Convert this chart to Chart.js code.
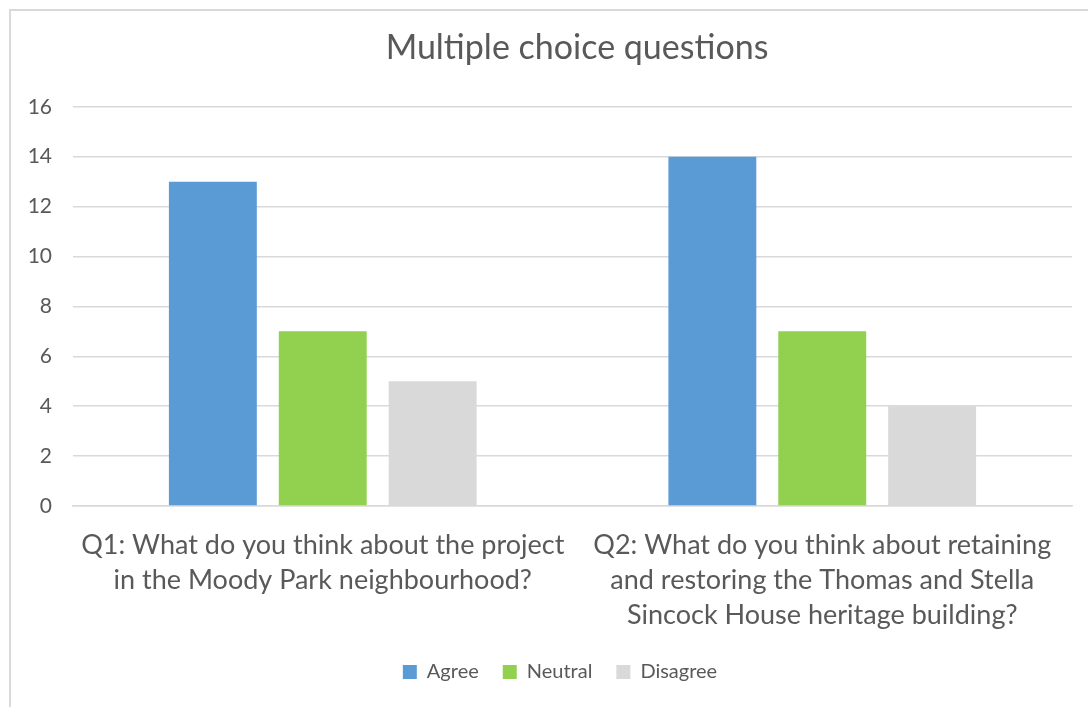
<!DOCTYPE html>
<html>
<head>
<meta charset="utf-8">
<script src="https://cdn.jsdelivr.net/npm/chart.js@4"></script>
<style>
  html, body { margin: 0; padding: 0; background: #fff; }
  .frame { position: absolute; left: 9px; top: 9px; right: 0; bottom: 0; border-left: 2px solid #d9d9d9; border-top: 2px solid #d9d9d9; }
  .canvas-container { position: absolute; left: 0; top: 0; width: 1088px; height: 707px; }
</style>
</head>
<body>
<div class="frame"></div>
<div class="canvas-container"><canvas id="mcq-chart" width="1088" height="707"></canvas></div>
<script>
const categories = [
    ['Q1: What do you think about the project', 'in the Moody Park neighbourhood?'],
    ['Q2: What do you think about retaining', 'and restoring the Thomas and Stella', 'Sincock House heritage building?']
];
const agree = [13, 14];
const neutral = [7, 7];
const disagree = [5, 4];
const yTicks = [0, 2, 4, 6, 8, 10, 12, 14, 16];

document.addEventListener("DOMContentLoaded", () => {
    const ctx = document.getElementById('mcq-chart').getContext('2d');
    const font = "Lato, 'Open Sans', sans-serif";
    const textColor = '#595959';

    // the original chart was wider than the crop, so title and legend sit right of centre
    const shiftBoxes = {
        id: 'shiftBoxes',
        afterLayout(chart) {
            if (chart.titleBlock) { chart.titleBlock.left += 36; chart.titleBlock.right += 36; }
            if (chart.legend) { chart.legend.left += 19; chart.legend.right += 19; }
        }
    };

    new Chart(ctx, {
        type: 'bar',
        data: {
            labels: categories,
            datasets: [
                { label: 'Agree', data: agree, backgroundColor: '#5b9bd5' },
                { label: 'Neutral', data: neutral, backgroundColor: '#92d050' },
                { label: 'Disagree', data: disagree, backgroundColor: '#d9d9d9' }
            ]
        },
        plugins: [shiftBoxes],
        options: {
            responsive: false,
            animation: false,
            categoryPercentage: 0.66,
            barPercentage: 0.8,
            layout: { padding: { left: 10, right: 16, top: 0, bottom: 15 } },
            plugins: {
                title: {
                    display: true,
                    text: 'Multiple choice questions',
                    color: textColor,
                    font: { family: font, size: 34, weight: 'normal' },
                    padding: { top: 28, bottom: 38 }
                },
                legend: {
                    position: 'bottom',
                    labels: {
                        color: textColor,
                        font: { family: font, size: 20 },
                        boxWidth: 14,
                        boxHeight: 14,
                        padding: 24
                    }
                },
                tooltip: { enabled: false }
            },
            scales: {
                y: {
                    min: 0,
                    max: 16,
                    afterBuildTicks: scale => { scale.ticks = yTicks.map(v => ({ value: v })); },
                    afterFit: scale => { scale.width = 63; },
                    border: { display: false },
                    grid: { color: '#d9d9d9', lineWidth: 1.5, drawTicks: false },
                    ticks: { color: textColor, font: { family: font, size: 21 }, padding: 21 }
                },
                x: {
                    afterFit: scale => { scale.height = 132; },
                    border: { color: '#d9d9d9', width: 1.5 },
                    grid: { display: false },
                    ticks: {
                        color: textColor,
                        font: { family: font, size: 27, lineHeight: 1.3 },
                        padding: 14,
                        maxRotation: 0,
                        minRotation: 0,
                        autoSkip: false
                    }
                }
            }
        }
    });
});
</script>
</body>
</html>
